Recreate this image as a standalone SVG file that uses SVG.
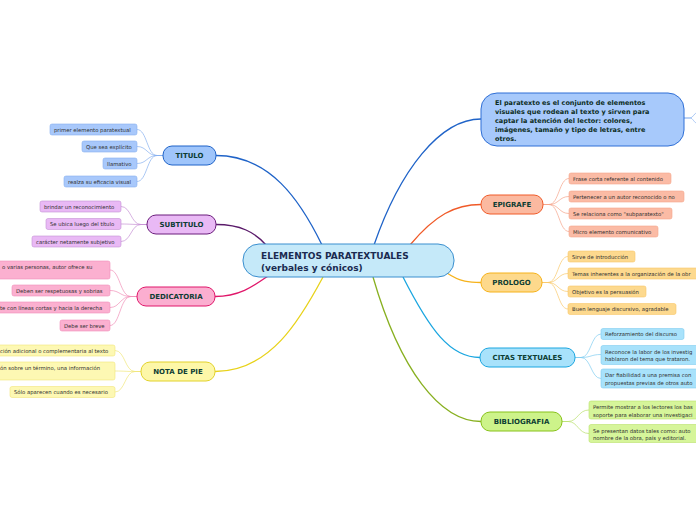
<svg xmlns="http://www.w3.org/2000/svg" width="696" height="520" viewBox="0 0 696 520">
<style>
.c{font-family:"DejaVu Sans",Verdana,sans-serif;font-size:5.3px;fill:#2e2e2e}
.n{font-family:"DejaVu Sans",Verdana,sans-serif;font-size:7px;font-weight:bold;fill:#0d3d33}
.t{font-family:"DejaVu Sans",Verdana,sans-serif;font-size:6.5px;font-weight:bold;fill:#0d2d1d}
.m{font-family:"DejaVu Sans",Verdana,sans-serif;font-size:9px;font-weight:bold;fill:#1a2b50}
.main{fill:none;stroke-width:1.3}
.sub{fill:none;stroke-width:0.7}
</style>
<rect width="696" height="520" fill="#ffffff"/>
<g id="connectors">
<path class="main" stroke="#1f63c8" d="M216,155.5 C270,155.5 300,200 322,245"/>
<path class="main" stroke="#5a1a6a" d="M216,224.5 C240,224.5 255,232 267,246"/>
<path class="main" stroke="#e0176a" d="M215,296.5 C240,296.5 255,285 268,276"/>
<path class="main" stroke="#e8d21a" d="M215,371.5 C270,371.5 300,320 323,277"/>
<path class="main" stroke="#1f63c8" d="M374,245 C400,170 440,119 481,119"/>
<path class="main" stroke="#f05a28" d="M410,245 C435,215 455,204.5 481,204.5"/>
<path class="main" stroke="#f6b21a" d="M447,273 C460,282 470,282.5 481,282.5"/>
<path class="main" stroke="#1ba6e0" d="M403,277 C430,330 450,357.5 480,357.5"/>
<path class="main" stroke="#88b020" d="M373,277 C400,370 440,421.5 481,421.5"/>
<g stroke="#86b0ef" class="sub">
<path d="M163,155.5 H157 C147,155.5 147,129.5 137,129.5"/>
<path d="M163,155.5 H157 C147,155.5 147,146.5 137,146.5"/>
<path d="M163,155.5 H157 C147,155.5 147,163.5 137,163.5"/>
<path d="M163,155.5 H157 C147,155.5 147,181.5 137,181.5"/>
</g>
<g stroke="#c590d4" class="sub">
<path d="M147,224.5 H141 C131,224.5 131,206.5 121,206.5"/>
<path d="M147,224.5 H141 C131,224.5 131,224 121,224"/>
<path d="M147,224.5 H141 C131,224.5 131,241.5 121,241.5"/>
</g>
<g stroke="#f08fb8" class="sub">
<path d="M137,296.5 H131 C120,296.5 120,270 110,270"/>
<path d="M137,296.5 H131 C120,296.5 120,290.5 110,290.5"/>
<path d="M137,296.5 H131 C120,296.5 120,307.5 110,307.5"/>
<path d="M137,296.5 H131 C120,296.5 120,325.5 110,325.5"/>
</g>
<g stroke="#f1e67a" class="sub">
<path d="M141,371.5 H135 C125,371.5 125,350.5 115,350.5"/>
<path d="M141,371.5 H135 C125,371.5 125,371 115,371"/>
<path d="M141,371.5 H135 C125,371.5 125,392 115,392"/>
</g>
<g stroke="#f5a48a" class="sub">
<path d="M543,204.5 H549 C559,204.5 559,178.5 569,178.5"/>
<path d="M543,204.5 H549 C559,204.5 559,196.5 569,196.5"/>
<path d="M543,204.5 H549 C559,204.5 559,213.5 569,213.5"/>
<path d="M543,204.5 H549 C559,204.5 559,231.5 569,231.5"/>
</g>
<g stroke="#f9c86a" class="sub">
<path d="M542,282.5 H548 C558,282.5 558,256.5 568,256.5"/>
<path d="M542,282.5 H548 C558,282.5 558,273.5 568,273.5"/>
<path d="M542,282.5 H548 C558,282.5 558,291.5 568,291.5"/>
<path d="M542,282.5 H548 C558,282.5 558,309 568,309"/>
</g>
<g stroke="#7fcdf0" class="sub">
<path d="M575,357.5 H581 C591,357.5 591,334 601,334"/>
<path d="M575,357.5 H581 C591,357.5 591,354.5 601,354.5"/>
<path d="M575,357.5 H581 C591,357.5 591,378.5 601,378.5"/>
</g>
<g stroke="#b8e06a" class="sub">
<path d="M562,421.5 H568 C578,421.5 578,410 589,410"/>
<path d="M562,421.5 H568 C578,421.5 578,433.5 589,433.5"/>
</g>
<g stroke="#86b0ef" class="sub">
<path d="M684,118 H690 C693,118 694,113 698,112"/>
<path d="M684,118 H690 C693,118 694,123 698,124"/>
</g>
</g>
<g id="center">
<rect x="243" y="244" width="211" height="33" rx="16" fill="#c5e9f9" stroke="#3a8fcf" stroke-width="1"/>
<text class="m" x="261" y="259">ELEMENTOS PARATEXTUALES</text>
<text class="m" x="261" y="270.5">(verbales y cónicos)</text>
</g>
<g id="paratexto">
<rect x="481" y="93" width="203" height="53" rx="16" fill="#a7c9fb" stroke="#2f6fd6" stroke-width="1"/>
<text class="t" x="495" y="105">El paratexto es el conjunto de elementos</text>
<text class="t" x="495" y="114">visuales que rodean al texto y sirven para</text>
<text class="t" x="495" y="123">captar la atención del lector: colores,</text>
<text class="t" x="495" y="132">imágenes, tamaño y tipo de letras, entre</text>
<text class="t" x="495" y="141">otros.</text>
</g>
<g id="titulo">
<rect x="163" y="146" width="53" height="19" rx="9" fill="#9fc5fb" stroke="#1f63c8"/>
<text class="n" x="189.5" y="158" text-anchor="middle">TITULO</text>
<g fill="#a8c8fb" stroke="#86b0ef" stroke-width="0.6">
<rect x="50" y="124" width="87" height="11" rx="2"/>
<rect x="82" y="141" width="55" height="11" rx="2"/>
<rect x="103" y="158" width="34" height="11" rx="2"/>
<rect x="64" y="176" width="73" height="11" rx="2"/>
</g>
<text class="c" x="54" y="131.5">primer elemento paratextual</text>
<text class="c" x="86" y="148.5">Que sea explícito</text>
<text class="c" x="107" y="165.5">llamativo</text>
<text class="c" x="68" y="183.5">realza su eficacia visual</text>
</g>
<g id="subtitulo">
<rect x="147" y="215" width="69" height="19" rx="9" fill="#e9b9f5" stroke="#6b1d7c"/>
<text class="n" x="181.5" y="227" text-anchor="middle">SUBTITULO</text>
<g fill="#e9b9f5" stroke="#c590d4" stroke-width="0.6">
<rect x="40" y="201" width="81" height="11" rx="2"/>
<rect x="46" y="218.5" width="75" height="11" rx="2"/>
<rect x="32" y="236" width="89" height="11" rx="2"/>
</g>
<text class="c" x="44" y="208.5">brindar un reconocimiento</text>
<text class="c" x="50" y="226">Se ubica luego del título</text>
<text class="c" x="36" y="243.5">carácter netamente subjetivo</text>
</g>
<g id="dedicatoria">
<rect x="137" y="287" width="78" height="19" rx="9" fill="#fbaed0" stroke="#e0176a"/>
<text class="n" x="176" y="299" text-anchor="middle">DEDICATORIA</text>
<g fill="#fbb0d0" stroke="#f08fb8" stroke-width="0.6">
<rect x="-10" y="261" width="120" height="18" rx="2"/>
<rect x="12" y="285" width="98" height="11" rx="2"/>
<rect x="-10" y="302" width="120" height="11" rx="2"/>
<rect x="60" y="320" width="50" height="11" rx="2"/>
</g>
<text class="c" x="2" y="268.5">o varias personas, autor ofrece su</text>
<text class="c" x="16" y="292.5">Deben ser respetuosas y sobrias</text>
<text class="c" x="0" y="309.5">te con líneas cortas y hacia la derecha</text>
<text class="c" x="64" y="327.5">Debe ser breve</text>
</g>
<g id="notadepie">
<rect x="141" y="362" width="74" height="19" rx="9" fill="#fdf7a8" stroke="#e2d22a"/>
<text class="n" x="178" y="374" text-anchor="middle">NOTA DE PIE</text>
<g fill="#fdf8b3" stroke="#f1e67a" stroke-width="0.6">
<rect x="-10" y="345" width="125" height="11" rx="2"/>
<rect x="-10" y="362" width="125" height="18" rx="2"/>
<rect x="10" y="386.5" width="105" height="11" rx="2"/>
</g>
<text class="c" x="0" y="352.5">ción adicional o complementaria al texto</text>
<text class="c" x="0" y="370">ón sobre un término, una información</text>
<text class="c" x="14" y="394">Sólo aparecen cuando es necesario</text>
</g>
<g id="epigrafe">
<rect x="481" y="195" width="62" height="19" rx="9" fill="#fbb9a0" stroke="#f05a28"/>
<text class="n" x="512" y="207" text-anchor="middle">EPIGRAFE</text>
<g fill="#fbbba5" stroke="#f5a48a" stroke-width="0.6">
<rect x="569" y="173" width="102" height="11" rx="2"/>
<rect x="569" y="191" width="115" height="11" rx="2"/>
<rect x="569" y="208" width="103" height="11" rx="2"/>
<rect x="569" y="226" width="89" height="11" rx="2"/>
</g>
<text class="c" x="573" y="180.5">Frase corta referente al contenido</text>
<text class="c" x="573" y="198.5">Pertenecer a un autor reconocido o no</text>
<text class="c" x="573" y="215.5">Se relaciona como "subparatexto"</text>
<text class="c" x="573" y="233.5">Micro elemento comunicativo</text>
</g>
<g id="prologo">
<rect x="481" y="273" width="61" height="19" rx="9" fill="#fdd98c" stroke="#f6b21a"/>
<text class="n" x="511.5" y="285" text-anchor="middle">PROLOGO</text>
<g fill="#fdd98e" stroke="#f9c86a" stroke-width="0.6">
<rect x="568" y="251" width="67" height="11" rx="2"/>
<rect x="568" y="268" width="140" height="11" rx="2"/>
<rect x="568" y="286" width="78" height="11" rx="2"/>
<rect x="568" y="303.5" width="108" height="11" rx="2"/>
</g>
<text class="c" x="572" y="258.5">Sirve de introducción</text>
<text class="c" x="572" y="275.5">Temas inherentes a la organización de la obr</text>
<text class="c" x="572" y="293.5">Objetivo es la persuasión</text>
<text class="c" x="572" y="311">Buen lenguaje discursivo, agradable</text>
</g>
<g id="citas">
<rect x="480" y="348" width="95" height="19" rx="9" fill="#a8e2fb" stroke="#1ba6e0"/>
<text class="n" x="527.5" y="360" text-anchor="middle">CITAS TEXTUALES</text>
<g fill="#a8e2fb" stroke="#7fcdf0" stroke-width="0.6">
<rect x="601" y="328.5" width="83" height="11" rx="2"/>
<rect x="601" y="345.5" width="110" height="19" rx="2"/>
<rect x="601" y="369" width="110" height="19" rx="2"/>
</g>
<text class="c" x="605" y="336">Reforzamiento del discurso</text>
<text class="c" x="605" y="353.5">Reconoce la labor de los investig</text>
<text class="c" x="605" y="361">hablaron del tema que trataron.</text>
<text class="c" x="605" y="377">Dar fiabilidad a una premisa con</text>
<text class="c" x="605" y="384.5">propuestas previas de otros auto</text>
</g>
<g id="bibliografia">
<rect x="481" y="412" width="81" height="19" rx="9" fill="#cdf38a" stroke="#88c21a"/>
<text class="n" x="521.5" y="424" text-anchor="middle">BIBLIOGRAFIA</text>
<g fill="#d6f59a" stroke="#b8e06a" stroke-width="0.6">
<rect x="589" y="401" width="120" height="18" rx="2"/>
<rect x="589" y="424.5" width="120" height="18" rx="2"/>
</g>
<text class="c" x="593" y="409">Permite mostrar a los lectores los bas</text>
<text class="c" x="593" y="416.5">soporte para elaborar una investigaci</text>
<text class="c" x="593" y="432.5">Se presentan datos tales como: auto</text>
<text class="c" x="593" y="440">nombre de la obra, país y editorial.</text>
</g>
</svg>
